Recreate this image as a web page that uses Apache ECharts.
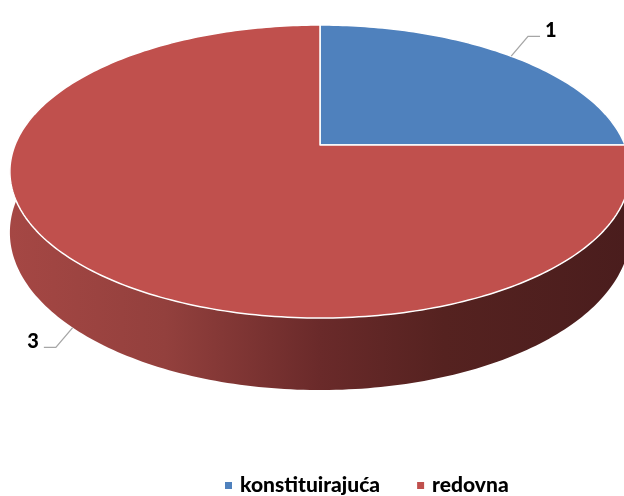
<!DOCTYPE html>
<html>
<head>
<meta charset="utf-8">
<script src="https://cdn.jsdelivr.net/npm/echarts@6/dist/echarts.min.js"></script>
<style>
html,body{margin:0;padding:0;background:#fff;}
#chart{width:624px;height:496px;}
</style>
</head>
<body>
<div id="chart"></div>
<script>
const categories = ['konstituirajuća', 'redovna'];
const values = [1, 3];
const sliceColors = ['#4f81bd', '#c0504d'];

const total = values.reduce((a, b) => a + b, 0);

// 3D pie projection settings (tilted disc, perspective)
const CX = 320, CY = 145, RA = 305, RB = 141.7, PK = 0.181, DEPTH = 59;
function proj(phi, h) {
  const u = Math.sin(phi), v = -Math.cos(phi);
  const s = 1 / (1 - PK * v);
  return [CX + RA * u * s, CY + (RB * v + h * DEPTH) * s];
}
function arc(p0, p1, h) {
  const pts = [];
  const n = Math.max(2, Math.ceil((p1 - p0) / (Math.PI / 180)));
  for (let i = 0; i <= n; i++) pts.push(proj(p0 + (p1 - p0) * i / n, h));
  return pts;
}

const wallGradient = {
  type: 'linear', x: 10, y: 0, x2: 630, y2: 0, global: true,
  colorStops: [
    { offset: 0, color: '#a54744' },
    { offset: 0.25, color: '#93403d' },
    { offset: 0.5, color: '#6a2a2a' },
    { offset: 0.7, color: '#552220' },
    { offset: 1, color: '#4a1d1d' }
  ]
};

function makeRender(idx) {
  return function (params, api) {
    const val = api.value(0);
    let before = 0;
    for (let j = 0; j < idx; j++) before += values[j];
    const p0 = before / total * Math.PI * 2;
    const p1 = (before + val) / total * Math.PI * 2;
    const color = api.visual('color');
    const children = [];

    // side wall (front part only)
    const w0 = Math.max(p0, Math.PI * 75 / 180);
    const w1 = Math.min(p1, Math.PI * 285 / 180);
    if (w1 > w0) {
      const top = arc(w0, w1, 0);
      const bot = arc(w0, w1, 1).reverse();
      children.push({
        type: 'polygon', z2: 1,
        shape: { points: top.concat(bot) },
        style: { fill: idx === 1 ? wallGradient : color, stroke: null }
      });
    }

    // top face
    const topPts = [[CX, CY]].concat(arc(p0, p1, 0));
    children.push({
      type: 'polygon', z2: 10,
      shape: { points: topPts },
      style: { fill: color, stroke: '#ffffff', lineWidth: 1.5, lineJoin: 'round' }
    });

    // label with leader line
    const mid = (p0 + p1) / 2;
    const u = Math.sin(mid), v = -Math.cos(mid);
    const anchor = proj(mid, v > 0 ? 1 : 0);
    const nrm = Math.hypot(u, v) || 1;
    const L = 28;
    const elbow = [anchor[0] + u / nrm * L * 0.85, anchor[1] + v / nrm * L];
    const sgn = u >= 0 ? 1 : -1;
    const end = [elbow[0] + sgn * 12, elbow[1]];
    children.push({
      type: 'polyline', z2: 20,
      shape: { points: [anchor, elbow, end] },
      style: { stroke: '#a6a6a6', lineWidth: 1.3, fill: null }
    });
    children.push({
      type: 'text', z2: 21,
      x: end[0] + sgn * 5, y: end[1] - 6,
      style: {
        text: String(val),
        fill: '#000000',
        fontFamily: 'Lato',
        fontWeight: 900,
        fontSize: 20,
        align: sgn > 0 ? 'left' : 'right',
        verticalAlign: 'middle'
      }
    });

    return { type: 'group', children: children };
  };
}

const series = categories.map((name, i) => ({
  type: 'custom',
  name: name,
  coordinateSystem: 'none',
  renderItem: makeRender(i),
  itemStyle: { color: sliceColors[i] },
  data: [[values[i]]],
  animation: false,
  silent: true
}));

const chart = echarts.init(document.getElementById('chart'), null, { renderer: 'canvas' });
chart.setOption({
  backgroundColor: '#ffffff',
  animation: false,
  color: sliceColors,
  legend: {
    data: categories,
    left: 220,
    top: 470,
    icon: 'rect',
    itemWidth: 7,
    itemHeight: 7,
    itemGap: 37,
    textStyle: {
      fontFamily: 'Lato',
      fontWeight: 900,
      fontSize: 21,
      color: '#000000',
      padding: [0, 0, 0, 3]
    }
  },
  series: series
});
</script>
</body>
</html>
